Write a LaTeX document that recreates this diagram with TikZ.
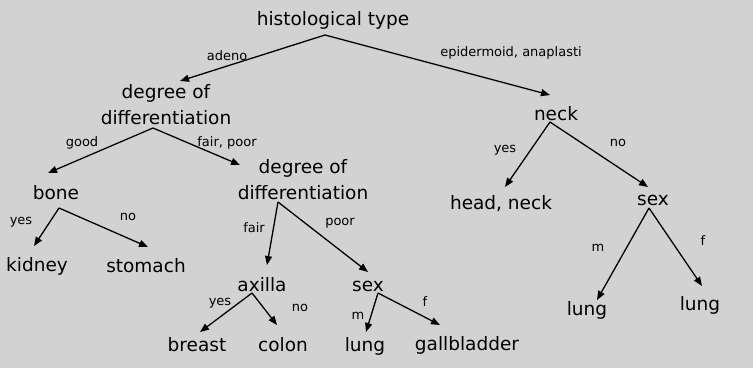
\documentclass[tikz,border=0pt]{standalone}
\usepackage{fontspec}
\setmainfont{DejaVu Sans}
\usetikzlibrary{arrows.meta}
\definecolor{bgcol}{RGB}{210,210,210}

\begin{document}
\begin{tikzpicture} [
        x=1pt, y=-1pt,
        attr/.style={font=\fontsize{18.5}{26}\selectfont, align=center, inner sep=1pt},
        leaf/.style={attr},
        lbl/.style={font=\fontsize{13}{15}\selectfont, inner sep=1pt},
        arr/.style={draw=black, line width=1.3pt,
            -{Triangle[length=9pt,width=7pt]}}
    ]

    % one pixel of the picture is 1pt
    \fill[bgcol] (0,0) rectangle (753,368);
    \useasboundingbox (0,0) rectangle (753,368);

    \node[attr](hist) at (333,20) {histological type};
    \node[attr](deg1) at (166,105) {degree of\\differentiation};
    \node[attr](neck) at (556,114) {neck};
    \node[attr](bone) at (56,193) {bone};
    \node[attr](deg2) at (303,180) {degree of\\differentiation};
    \node[attr](axilla) at (262,285) {axilla};
    \node[attr](sexa) at (368,286) {sex};
    \node[attr](sexb) at (653,200) {sex};

    \node[leaf](kidney) at (37,266) {kidney};
    \node[leaf](stomach) at (146,266) {stomach};
    \node[leaf](breast) at (197,345) {breast};
    \node[leaf](colon) at (283,345) {colon};
    \node[leaf](lunga) at (365,346) {lung};
    \node[leaf](gall) at (467,345) {gallbladder};
    \node[leaf](headneck) at (501,204) {head, neck};
    \node[leaf](lungb) at (587,310) {lung};
    \node[leaf](lungc) at (700,305) {lung};

    \draw[arr] ([shift={(-8,15)}]hist.center) -- ([shift={(14,-24)}]deg1.center);
    \draw[arr] ([shift={(-8,15)}]hist.center) -- ([shift={(-6,-19)}]neck.center);
    \draw[arr] ([shift={(-13,23)}]deg1.center) -- ([shift={(-8,-20)}]bone.center);
    \draw[arr] ([shift={(-13,23)}]deg1.center) -- ([shift={(-63,-15)}]deg2.center);
    \draw[arr] ([shift={(3,15)}]bone.center) -- ([shift={(-3,-20)}]kidney.center);
    \draw[arr] ([shift={(3,15)}]bone.center) -- ([shift={(2,-19)}]stomach.center);
    \draw[arr] ([shift={(-25,22)}]deg2.center) -- ([shift={(5,-20)}]axilla.center);
    \draw[arr] ([shift={(-25,22)}]deg2.center) -- ([shift={(0,-14)}]sexa.center);
    \draw[arr] ([shift={(-10,8)}]axilla.center) -- ([shift={(3,-13)}]breast.center);
    \draw[arr] ([shift={(-10,8)}]axilla.center) -- ([shift={(-6,-20)}]colon.center);
    \draw[arr] ([shift={(10,7)}]sexa.center) -- ([shift={(1,-14)}]lunga.center);
    \draw[arr] ([shift={(10,7)}]sexa.center) -- ([shift={(-27,-20)}]gall.center);
    \draw[arr] ([shift={(-6,8)}]neck.center) -- ([shift={(4,-17)}]headneck.center);
    \draw[arr] ([shift={(-6,8)}]neck.center) -- ([shift={(-5,-13)}]sexb.center);
    \draw[arr] ([shift={(-4,8)}]sexb.center) -- ([shift={(10,-10)}]lungb.center);
    \draw[arr] ([shift={(-4,8)}]sexb.center) -- ([shift={(2,-19)}]lungc.center);

    \node[lbl](l-adeno) at (227,56) {adeno};
    \node[lbl](l-epid) at (511,53) {epidermoid, anaplasti};
    \node[lbl](l-good) at (82,143) {good};
    \node[lbl](l-fairpoor) at (227,143) {fair, poor};
    \node[lbl](l-yesa) at (21,222) {yes};
    \node[lbl](l-noa) at (128,217) {no};
    \node[lbl](l-fair) at (254,228) {fair};
    \node[lbl](l-poor) at (340,223) {poor};
    \node[lbl](l-yesb) at (220,303) {yes};
    \node[lbl](l-nob) at (300,308) {no};
    \node[lbl](l-ma) at (358,316) {m};
    \node[lbl](l-fa) at (425,302) {f};
    \node[lbl](l-yesc) at (505,150) {yes};
    \node[lbl](l-noc) at (618,143) {no};
    \node[lbl](l-mb) at (598,248) {m};
    \node[lbl](l-fb) at (703,241) {f};

\end{tikzpicture}
\end{document}
